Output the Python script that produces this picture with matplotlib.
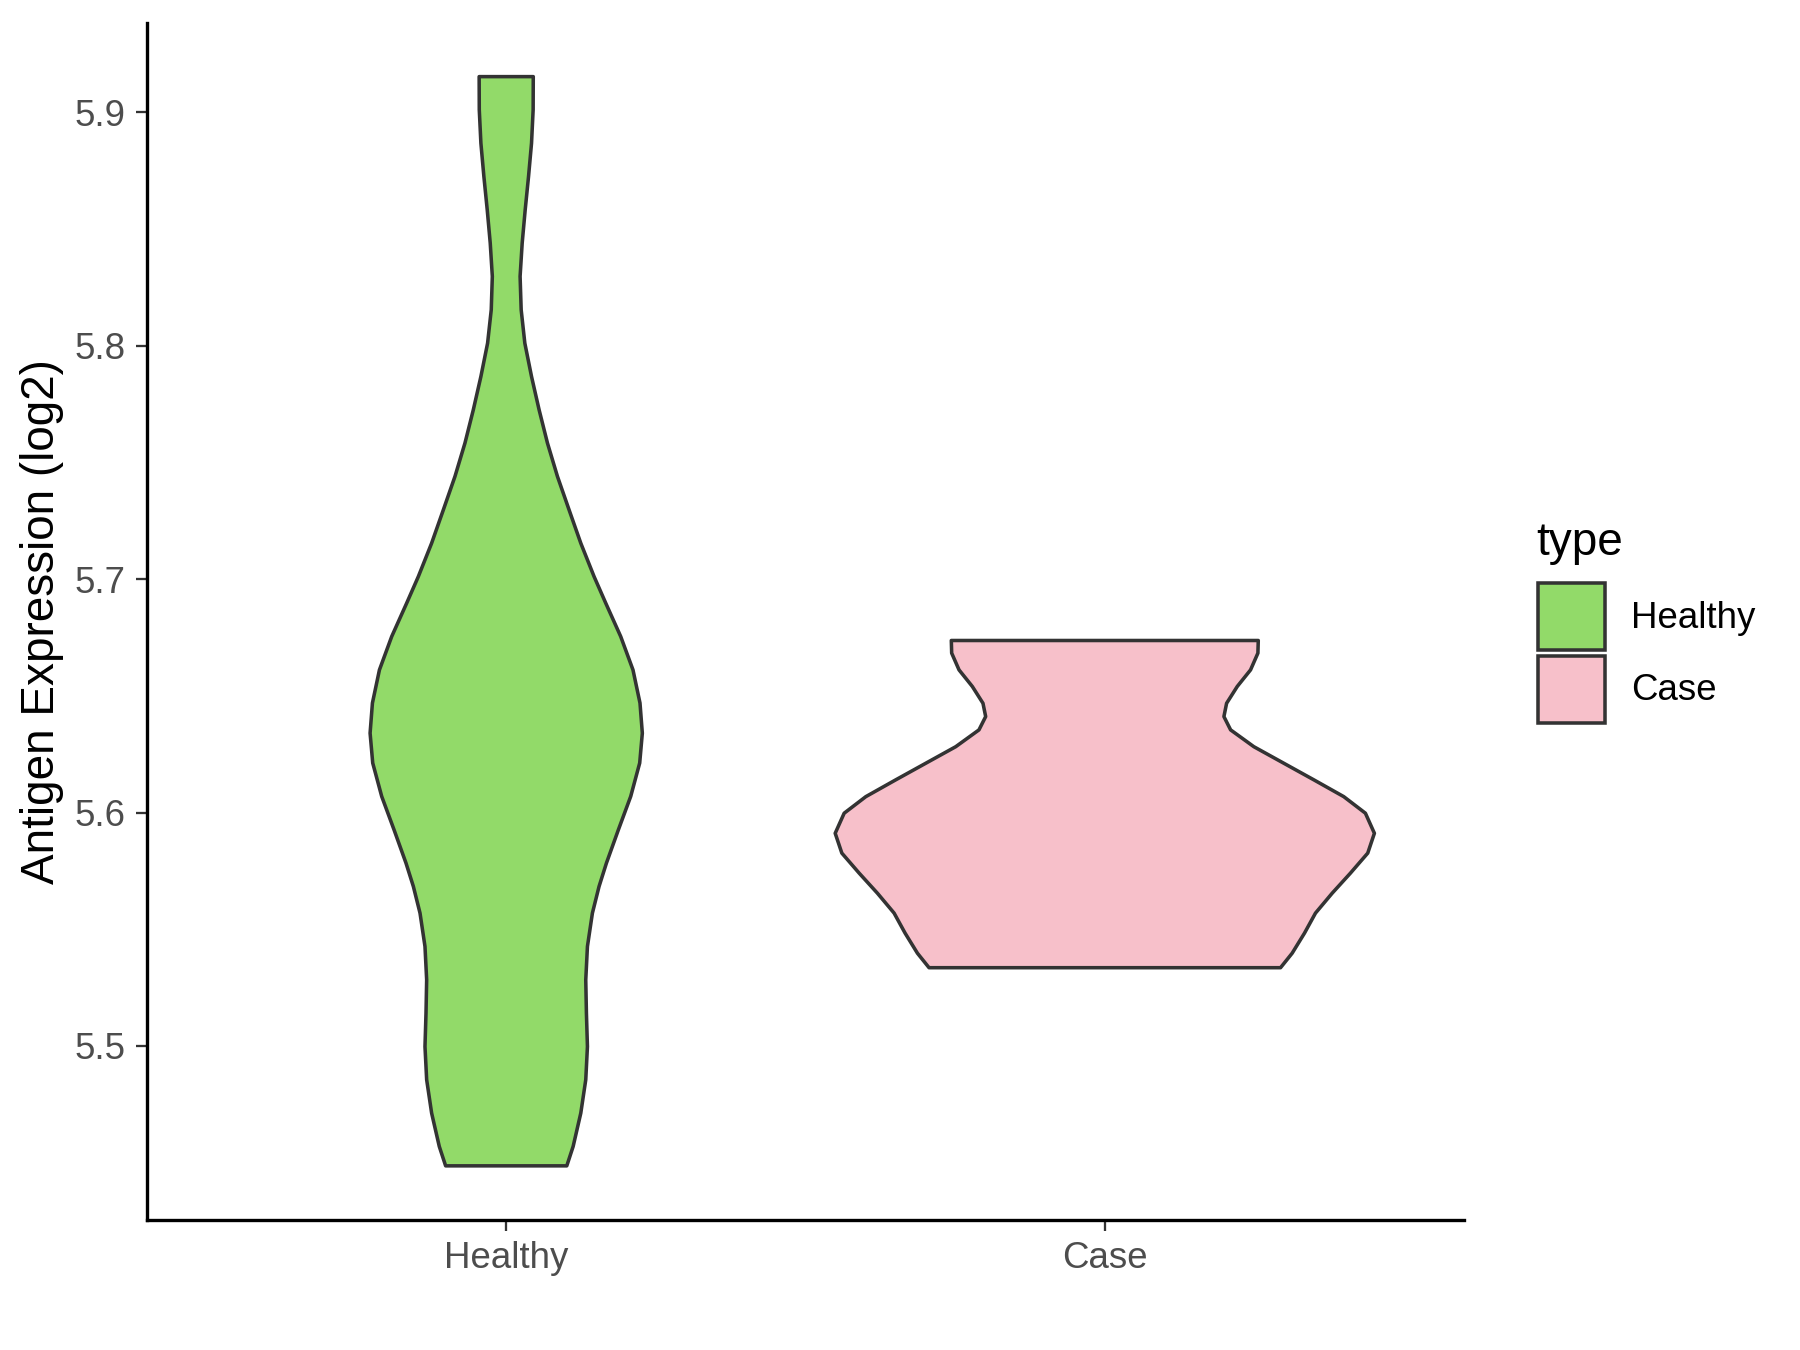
import numpy as np
import matplotlib.pyplot as plt
from matplotlib.patches import Rectangle

plt.rcParams['font.family'] = ['Liberation Sans', 'DejaVu Sans']

categories = ['Healthy', 'Case']
colors = ['#92DA69', '#F7C0CA']

# violin outlines: expression level and half-width (x units)
healthy_y = [5.9153, 5.9011, 5.8868, 5.8725, 5.8582, 5.8440, 5.8297, 5.8154, 5.8011,
             5.7868, 5.7725, 5.7583, 5.7440, 5.7297, 5.7154, 5.7011, 5.6897, 5.6754,
             5.6611, 5.6469, 5.6340, 5.6212, 5.6069, 5.5926, 5.5783, 5.5683, 5.5569,
             5.5426, 5.5283, 5.5140, 5.4997, 5.4855, 5.4712, 5.4569, 5.4486]
healthy_w = [0.0452, 0.0450, 0.0423, 0.0373, 0.0317, 0.0267, 0.0232, 0.0250, 0.0311,
             0.0423, 0.0550, 0.0689, 0.0856, 0.1050, 0.1246, 0.1468, 0.1663, 0.1913,
             0.2118, 0.2235, 0.2274, 0.2230, 0.2080, 0.1874, 0.1674, 0.1551, 0.1440,
             0.1357, 0.1329, 0.1340, 0.1357, 0.1329, 0.1246, 0.1118, 0.1012]

case_y = [5.6737, 5.6683, 5.6611, 5.6540, 5.6468, 5.6411, 5.6354, 5.6282, 5.6211,
          5.6140, 5.6068, 5.5997, 5.5911, 5.5826, 5.5740, 5.5654, 5.5569, 5.5483,
          5.5397, 5.5335]
case_w = [0.2564, 0.2558, 0.2435, 0.2213, 0.2035, 0.1990, 0.2102, 0.2490, 0.2991,
          0.3492, 0.3992, 0.4354, 0.4504, 0.4393, 0.4103, 0.3798, 0.3520, 0.3336,
          0.3130, 0.2936]

yticks = [5.5, 5.6, 5.7, 5.8, 5.9]

fig = plt.figure(figsize=(6, 4.5), dpi=300)
ax = fig.add_axes([0.0817, 0.0963, 0.7316, 0.8867])

for i, (y, w) in enumerate([(healthy_y, healthy_w), (case_y, case_w)]):
    y = np.array(y)
    w = np.array(w)
    xs = np.concatenate([i + 1 - w, (i + 1 + w)[::-1]])
    ys = np.concatenate([y, y[::-1]])
    ax.fill(xs, ys, facecolor=colors[i], edgecolor='#333333', linewidth=0.85,
            joinstyle='round')

ax.set_xlim(0.4, 2.6)
ax.set_ylim(5.4254, 5.9383)
ax.set_xticks([1, 2])
ax.set_xticklabels(categories)
ax.set_yticks(yticks)
ax.set_yticklabels([f'{v:.1f}' for v in yticks])
ax.tick_params(axis='both', length=2.7, width=0.55, color='#333333',
               labelcolor='#4D4D4D', labelsize=8.8, pad=2.4)
ax.set_ylabel('Antigen Expression (log2)', fontsize=11, color='black', labelpad=2.5)

for s in ['top', 'right']:
    ax.spines[s].set_visible(False)
for s in ['left', 'bottom']:
    ax.spines[s].set_linewidth(0.8)
    ax.spines[s].set_color('black')

# legend drawn by hand
fig.text(1536.7 / 1800, 1 - 555 / 1350, 'type', fontsize=11, va='baseline', ha='left')
key_tops = [583.3, 655.7]
for i, lab in enumerate(categories):
    top = key_tops[i]
    fig.patches.append(Rectangle((1538 / 1800, 1 - (top + 67) / 1350), 67 / 1800, 67 / 1350,
                                 transform=fig.transFigure, facecolor=colors[i],
                                 edgecolor='#333333', linewidth=0.85))
    fig.text(1631 / 1800, 1 - (top + 35) / 1350, lab, fontsize=8.8, va='center', ha='left')

fig.savefig('out.png', dpi=300)
